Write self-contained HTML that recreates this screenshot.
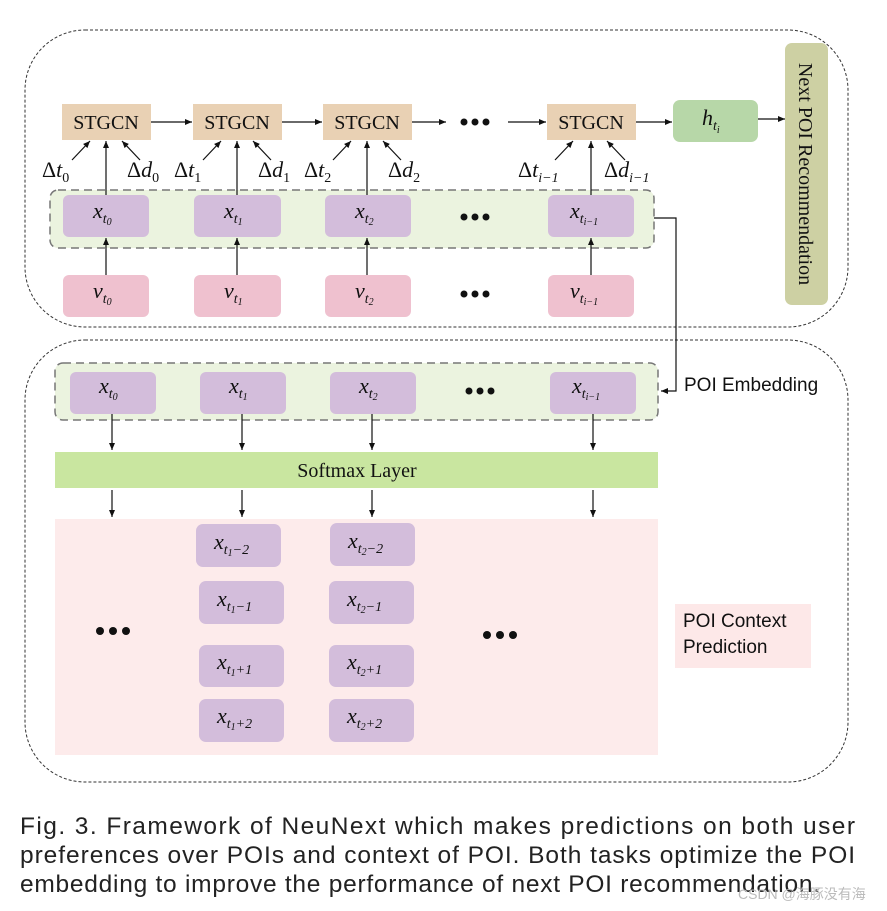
<!DOCTYPE html>
<html><head><meta charset="utf-8"><style>
body{margin:0;background:#fff;}
svg{display:block}
.s{font-family:"Liberation Serif",serif;font-size:20px;fill:#111}
.m{font-family:"Liberation Serif",serif;font-style:italic;font-size:22px;fill:#111}
.sub{font-size:14px}
.a{font-family:"Liberation Sans",sans-serif;font-size:19px;fill:#111}
.cap{font-family:"Liberation Sans",sans-serif;font-size:24.5px;fill:#222}
</style></head><body>
<svg width="887" height="911" viewBox="0 0 887 911" xmlns="http://www.w3.org/2000/svg">
<defs><marker id="ar" markerWidth="8" markerHeight="8" refX="7" refY="4" orient="auto" markerUnits="userSpaceOnUse"><path d="M0,1 L7,4 L0,7 z" fill="#111"/></marker></defs>
<rect x="25" y="30" width="823" height="297" rx="60" fill="none" stroke="#333" stroke-dasharray="3,2"/>
<rect x="25" y="340" width="823" height="442" rx="60" fill="none" stroke="#333" stroke-dasharray="3,2"/>
<g fill="#e9d1b4">
<rect x="62" y="104" width="89" height="36"/><rect x="193" y="104" width="89" height="36"/><rect x="323" y="104" width="89" height="36"/><rect x="547" y="104" width="89" height="36"/></g>
<g class="s" text-anchor="middle"><text x="106" y="129">STGCN</text><text x="237" y="129">STGCN</text><text x="367" y="129">STGCN</text><text x="591" y="129">STGCN</text></g>
<g class="m"><text x="42" y="177"><tspan font-style="normal">Δ</tspan>t<tspan class="sub" dy="5" font-style="normal">0</tspan></text>
<text x="127" y="177"><tspan font-style="normal">Δ</tspan>d<tspan class="sub" dy="5" font-style="normal">0</tspan></text>
<text x="174" y="177"><tspan font-style="normal">Δ</tspan>t<tspan class="sub" dy="5" font-style="normal">1</tspan></text>
<text x="258" y="177"><tspan font-style="normal">Δ</tspan>d<tspan class="sub" dy="5" font-style="normal">1</tspan></text>
<text x="304" y="177"><tspan font-style="normal">Δ</tspan>t<tspan class="sub" dy="5" font-style="normal">2</tspan></text>
<text x="388" y="177"><tspan font-style="normal">Δ</tspan>d<tspan class="sub" dy="5" font-style="normal">2</tspan></text>
<text x="518" y="177"><tspan font-style="normal">Δ</tspan>t<tspan class="sub" dy="5">i−1</tspan></text>
<text x="604" y="177"><tspan font-style="normal">Δ</tspan>d<tspan class="sub" dy="5">i−1</tspan></text></g>
<rect x="673" y="100" width="85" height="42" rx="7" fill="#b7d7a8"/>
<text class="m" x="702" y="125">h<tspan class="sub" dy="5">t<tspan font-size="10" dy="3">i</tspan></tspan></text>
<rect x="785" y="43" width="43" height="262" rx="7" fill="#cdd0a3"/>
<text class="s" transform="translate(799,174) rotate(90)" text-anchor="middle" font-size="21">Next POI Recommendation</text>
<rect x="50" y="190" width="604" height="58" rx="8" fill="#ebf3df" stroke="#777" stroke-width="1.5" stroke-dasharray="8,5"/>
<g fill="#d3bddb"><rect x="63" y="195" width="86" height="42" rx="6"/><rect x="194" y="195" width="87" height="42" rx="6"/><rect x="325" y="195" width="86" height="42" rx="6"/><rect x="548" y="195" width="86" height="42" rx="6"/></g>
<g fill="#efc1cf"><rect x="63" y="275" width="86" height="42" rx="6"/><rect x="194" y="275" width="87" height="42" rx="6"/><rect x="325" y="275" width="86" height="42" rx="6"/><rect x="548" y="275" width="86" height="42" rx="6"/></g>
<g class="m">
<text x="93" y="218">x<tspan class="sub" dy="5">t<tspan font-size="10" dy="2">0</tspan></tspan></text>
<text x="224" y="218">x<tspan class="sub" dy="5">t<tspan font-size="10" dy="2">1</tspan></tspan></text>
<text x="355" y="218">x<tspan class="sub" dy="5">t<tspan font-size="10" dy="2">2</tspan></tspan></text>
<text x="570" y="218">x<tspan class="sub" dy="5">t<tspan font-size="10" dy="2">i−1</tspan></tspan></text>
<text x="93" y="298">v<tspan class="sub" dy="5">t<tspan font-size="10" dy="2">0</tspan></tspan></text>
<text x="224" y="298">v<tspan class="sub" dy="5">t<tspan font-size="10" dy="2">1</tspan></tspan></text>
<text x="355" y="298">v<tspan class="sub" dy="5">t<tspan font-size="10" dy="2">2</tspan></tspan></text>
<text x="570" y="298">v<tspan class="sub" dy="5">t<tspan font-size="10" dy="2">i−1</tspan></tspan></text>
</g>
<text class="a" x="684" y="391">POI Embedding</text>
<rect x="55" y="363" width="603" height="57" rx="8" fill="#ebf3df" stroke="#777" stroke-width="1.5" stroke-dasharray="8,5"/>
<g fill="#d3bddb"><rect x="70" y="372" width="86" height="42" rx="6"/><rect x="200" y="372" width="86" height="42" rx="6"/><rect x="330" y="372" width="86" height="42" rx="6"/><rect x="550" y="372" width="86" height="42" rx="6"/></g>
<g class="m">
<text x="99" y="393">x<tspan class="sub" dy="5">t<tspan font-size="10" dy="2">0</tspan></tspan></text>
<text x="229" y="393">x<tspan class="sub" dy="5">t<tspan font-size="10" dy="2">1</tspan></tspan></text>
<text x="359" y="393">x<tspan class="sub" dy="5">t<tspan font-size="10" dy="2">2</tspan></tspan></text>
<text x="572" y="393">x<tspan class="sub" dy="5">t<tspan font-size="10" dy="2">i−1</tspan></tspan></text>
</g>
<rect x="55" y="452" width="603" height="36" fill="#c9e6a0"/>
<text class="s" x="357" y="477" text-anchor="middle">Softmax Layer</text>
<rect x="55" y="519" width="603" height="236" fill="#fdebeb"/>
<g fill="#d3bddb">
<rect x="196" y="524" width="85" height="43" rx="7"/><rect x="199" y="581" width="85" height="43" rx="7"/><rect x="199" y="645" width="85" height="42" rx="7"/><rect x="199" y="699" width="85" height="43" rx="7"/>
<rect x="330" y="523" width="85" height="43" rx="7"/><rect x="329" y="581" width="85" height="43" rx="7"/><rect x="329" y="645" width="85" height="42" rx="7"/><rect x="329" y="699" width="85" height="43" rx="7"/></g>
<g class="m">
<text x="214" y="549">x<tspan class="sub" dy="5">t<tspan font-size="10" dy="2">1</tspan><tspan dy="-2">−2</tspan></tspan></text>
<text x="217" y="606">x<tspan class="sub" dy="5">t<tspan font-size="10" dy="2">1</tspan><tspan dy="-2">−1</tspan></tspan></text>
<text x="217" y="669">x<tspan class="sub" dy="5">t<tspan font-size="10" dy="2">1</tspan><tspan dy="-2">+1</tspan></tspan></text>
<text x="217" y="723">x<tspan class="sub" dy="5">t<tspan font-size="10" dy="2">1</tspan><tspan dy="-2">+2</tspan></tspan></text>
<text x="348" y="548">x<tspan class="sub" dy="5">t<tspan font-size="10" dy="2">2</tspan><tspan dy="-2">−2</tspan></tspan></text>
<text x="347" y="606">x<tspan class="sub" dy="5">t<tspan font-size="10" dy="2">2</tspan><tspan dy="-2">−1</tspan></tspan></text>
<text x="347" y="669">x<tspan class="sub" dy="5">t<tspan font-size="10" dy="2">2</tspan><tspan dy="-2">+1</tspan></tspan></text>
<text x="347" y="723">x<tspan class="sub" dy="5">t<tspan font-size="10" dy="2">2</tspan><tspan dy="-2">+2</tspan></tspan></text>
</g>
<rect x="675" y="604" width="136" height="64" fill="#fde8e8"/>
<text class="a" x="683" y="627">POI Context</text>
<text class="a" x="683" y="653">Prediction</text>
<!-- arrows on top -->
<g stroke="#111" stroke-width="1.2" marker-end="url(#ar)">
<line x1="151" y1="122" x2="192" y2="122"/><line x1="282" y1="122" x2="322" y2="122"/><line x1="412" y1="122" x2="446" y2="122"/><line x1="508" y1="122" x2="546" y2="122"/><line x1="636" y1="122" x2="672" y2="122"/><line x1="758" y1="119" x2="785" y2="119"/>
<line x1="106" y1="195" x2="106" y2="141"/><line x1="237" y1="195" x2="237" y2="141"/><line x1="367" y1="195" x2="367" y2="141"/><line x1="591" y1="195" x2="591" y2="141"/>
<line x1="106" y1="275" x2="106" y2="238"/><line x1="237" y1="275" x2="237" y2="238"/><line x1="367" y1="275" x2="367" y2="238"/><line x1="591" y1="275" x2="591" y2="238"/>
<line x1="72" y1="160" x2="90" y2="141"/><line x1="140" y1="160" x2="122" y2="141"/>
<line x1="203" y1="160" x2="221" y2="141"/><line x1="271" y1="160" x2="253" y2="141"/>
<line x1="333" y1="160" x2="351" y2="141"/><line x1="401" y1="160" x2="383" y2="141"/>
<line x1="555" y1="160" x2="573" y2="141"/><line x1="625" y1="160" x2="607" y2="141"/>
<line x1="112" y1="414" x2="112" y2="450"/><line x1="242" y1="414" x2="242" y2="450"/><line x1="372" y1="414" x2="372" y2="450"/><line x1="593" y1="414" x2="593" y2="450"/>
<line x1="112" y1="490" x2="112" y2="517"/><line x1="242" y1="490" x2="242" y2="517"/><line x1="372" y1="490" x2="372" y2="517"/><line x1="593" y1="490" x2="593" y2="517"/>
</g>
<polyline points="654,218 676,218 676,391 661,391" fill="none" stroke="#111" stroke-width="1.2" marker-end="url(#ar)"/>
<g fill="#111"><circle cx="464" cy="122" r="3.5"/><circle cx="475" cy="122" r="3.5"/><circle cx="486" cy="122" r="3.5"/>
<circle cx="464" cy="217" r="3.5"/><circle cx="475" cy="217" r="3.5"/><circle cx="486" cy="217" r="3.5"/>
<circle cx="464" cy="294" r="3.5"/><circle cx="475" cy="294" r="3.5"/><circle cx="486" cy="294" r="3.5"/>
<circle cx="469" cy="391" r="3.5"/><circle cx="480" cy="391" r="3.5"/><circle cx="491" cy="391" r="3.5"/>
<circle cx="100" cy="631" r="4"/><circle cx="113" cy="631" r="4"/><circle cx="126" cy="631" r="4"/>
<circle cx="487" cy="635" r="4"/><circle cx="500" cy="635" r="4"/><circle cx="513" cy="635" r="4"/></g>
<text class="cap" x="20" y="834" textLength="835" lengthAdjust="spacing">Fig. 3. Framework of NeuNext which makes predictions on both user</text>
<text class="cap" x="20" y="863" textLength="835" lengthAdjust="spacing">preferences over POIs and context of POI. Both tasks optimize the POI</text>
<text class="cap" x="20" y="892" textLength="800" lengthAdjust="spacing">embedding to improve the performance of next POI recommendation.</text>
<text x="738" y="899" font-family="Liberation Sans,'Noto Sans CJK SC',sans-serif" font-size="14" fill="#bbb">CSDN @海豚没有海</text>
</svg>
</body></html>
